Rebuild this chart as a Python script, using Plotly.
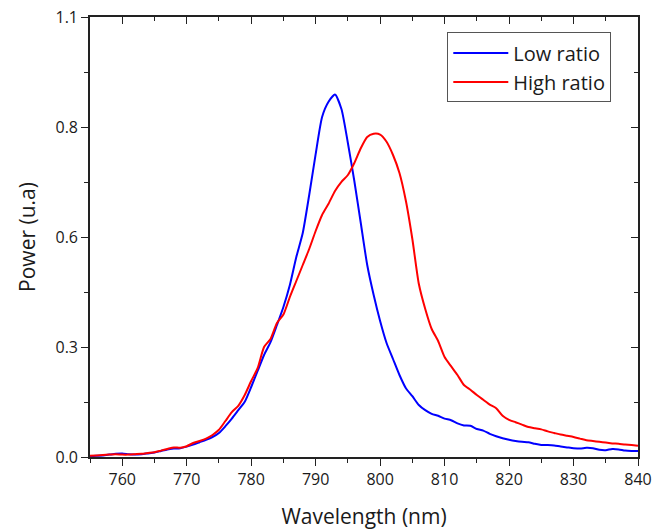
import plotly.graph_objects as go

wavelength = list(range(755, 841))

low_ratio = [
    0.002, 0.003, 0.004, 0.006, 0.008, 0.009, 0.007, 0.006, 0.007, 0.009,   # 755-764
    0.011, 0.015, 0.019, 0.021, 0.022, 0.026, 0.031, 0.037, 0.043, 0.050,   # 765-774
    0.060, 0.077, 0.096, 0.117, 0.138, 0.175, 0.215, 0.255, 0.287, 0.330,   # 775-784
    0.375, 0.430, 0.500, 0.560, 0.655, 0.757, 0.850, 0.888, 0.906, 0.870,   # 785-794
    0.785, 0.690, 0.585, 0.480, 0.405, 0.340, 0.285, 0.245, 0.205, 0.172,   # 795-804
    0.152, 0.130, 0.117, 0.108, 0.103, 0.096, 0.092, 0.084, 0.079, 0.078,   # 805-814
    0.070, 0.066, 0.058, 0.052, 0.047, 0.043, 0.040, 0.038, 0.037, 0.033,   # 815-824
    0.030, 0.030, 0.029, 0.026, 0.024, 0.022, 0.021, 0.023, 0.022, 0.018,   # 825-834
    0.017, 0.020, 0.019, 0.016, 0.015, 0.015,                               # 835-840
]

high_ratio = [
    0.003, 0.004, 0.005, 0.006, 0.007, 0.006, 0.006, 0.007, 0.008, 0.010,   # 755-764
    0.012, 0.016, 0.020, 0.024, 0.023, 0.027, 0.035, 0.040, 0.046, 0.055,   # 765-774
    0.068, 0.090, 0.112, 0.128, 0.155, 0.190, 0.222, 0.275, 0.295, 0.335,   # 775-784
    0.356, 0.400, 0.440, 0.480, 0.520, 0.565, 0.605, 0.633, 0.665, 0.688,   # 785-794
    0.705, 0.735, 0.772, 0.800, 0.808, 0.806, 0.788, 0.755, 0.710, 0.640,   # 795-804
    0.545, 0.433, 0.370, 0.320, 0.290, 0.250, 0.227, 0.205, 0.180, 0.168,   # 805-814
    0.155, 0.143, 0.131, 0.122, 0.103, 0.093, 0.087, 0.081, 0.075, 0.072,   # 815-824
    0.069, 0.064, 0.060, 0.056, 0.053, 0.050, 0.046, 0.042, 0.040, 0.038,   # 825-834
    0.036, 0.034, 0.033, 0.031, 0.030, 0.028,                               # 835-840
]

x_tickvals = [760, 770, 780, 790, 800, 810, 820, 830, 840]
x_ticktext = ["760", "770", "780", "790", "800", "810", "820", "830", "840"]
y_tickvals = [0.0, 0.275, 0.55, 0.825, 1.1]
y_ticktext = ["0.0", "0.3", "0.6", "0.8", "1.1"]

FONT = "Open Sans"
AX = "#222222"

fig = go.Figure()
fig.add_trace(go.Scatter(x=wavelength, y=low_ratio, mode="lines", name="Low ratio",
                         line=dict(color="#0000FF", width=2, shape="spline", smoothing=0.6)))
fig.add_trace(go.Scatter(x=wavelength, y=high_ratio, mode="lines", name="High ratio",
                         line=dict(color="#FF0000", width=2, shape="spline", smoothing=0.6)))
# empty trace so the mirrored top/right axes (with inward ticks) are drawn
fig.add_trace(go.Scatter(x=[], y=[], xaxis="x2", yaxis="y2", showlegend=False,
                         hoverinfo="skip", mode="lines"))

common_x = dict(range=[755, 840], showgrid=False, zeroline=False, linecolor=AX, linewidth=1.6,
                tickcolor=AX, tickwidth=1.4, automargin=False, ticklabeloverflow="allow")
common_y = dict(range=[0, 1.1], showgrid=False, zeroline=False, linecolor=AX, linewidth=1.6,
                tickcolor=AX, tickwidth=1.4, automargin=False, ticklabeloverflow="allow")

fig.update_layout(
    width=654, height=530,
    margin=dict(l=90, r=16, t=17, b=73),
    paper_bgcolor="white", plot_bgcolor="white",
    font=dict(family=FONT, color="#1a1a1a", size=16),
    xaxis=dict(**common_x, showline=True, ticks="outside", ticklen=7,
               tickvals=x_tickvals, ticktext=x_ticktext,
               minor=dict(dtick=5, tick0=755, ticks="outside", ticklen=4, tickcolor=AX, tickwidth=1.4),
               title=dict(text="Wavelength (nm)", font=dict(size=21), standoff=20),
               tickfont=dict(size=16)),
    yaxis=dict(**common_y, showline=True, ticks="outside", ticklen=7,
               tickvals=y_tickvals, ticktext=y_ticktext,
               minor=dict(dtick=0.1375, tick0=0, ticks="outside", ticklen=4, tickcolor=AX, tickwidth=1.4),
               title=dict(text="Power (u.a)", font=dict(size=21), standoff=14),
               tickfont=dict(size=16)),
    xaxis2=dict(**common_x, overlaying="x", side="top", anchor="y2", showline=True,
                ticks="inside", ticklen=7, tickvals=x_tickvals, showticklabels=False,
                minor=dict(dtick=5, tick0=755, ticks="inside", ticklen=4, tickcolor=AX, tickwidth=1.4)),
    yaxis2=dict(**common_y, overlaying="y", side="right", anchor="x2", showline=True,
                ticks="inside", ticklen=7, tickvals=y_tickvals, showticklabels=False,
                minor=dict(dtick=0.1375, tick0=0, ticks="inside", ticklen=4, tickcolor=AX, tickwidth=1.4)),
    legend=dict(x=0.652, y=0.965, xanchor="left", yanchor="top",
                bgcolor="white", bordercolor="#555555", borderwidth=1,
                font=dict(size=20, family=FONT), itemwidth=55, tracegroupgap=0),
    showlegend=True,
)

# remove the browser's default page margin so the 654x530 figure fills the window exactly
fig.write_html(
    "out.html",
    config={"displayModeBar": False},
    post_script="document.documentElement.style.margin='0';document.body.style.margin='0';"
                "document.body.style.overflow='hidden';",
)
